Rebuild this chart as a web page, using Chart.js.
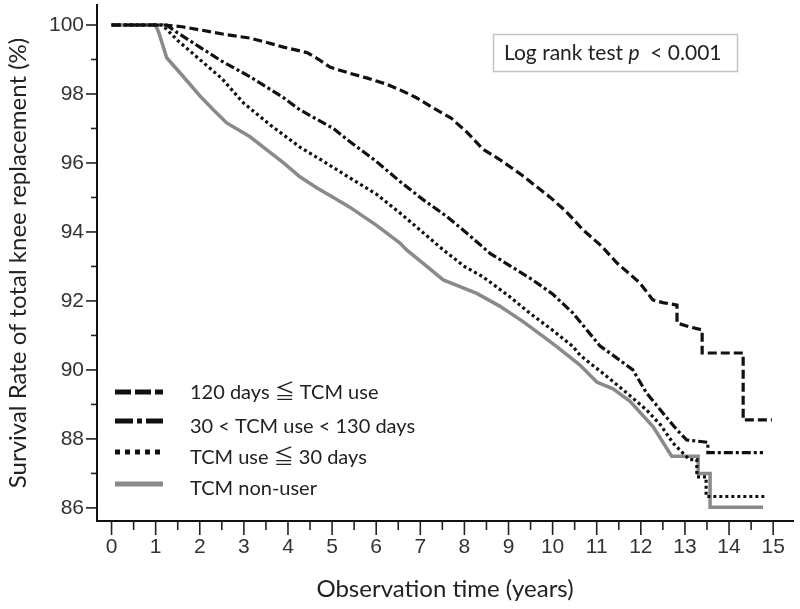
<!DOCTYPE html>
<html><head><meta charset="utf-8">
<script src="https://cdn.jsdelivr.net/npm/chart.js@4.4.1/dist/chart.umd.min.js"></script>
<style>html,body{margin:0;padding:0;background:#fff}#wrap{width:800px;height:609px;position:relative}canvas{display:block}</style>
</head><body><div id="wrap"><canvas id="c" width="800" height="609"></canvas></div>
<script>
// ---- data ----
const xTickLabels = [0,1,2,3,4,5,6,7,8,9,10,11,12,13,14,15];
const yTickLabels = [86,88,90,92,94,96,98,100];
const seriesNames = ['120 days \u2266 TCM use','30 < TCM use < 130 days','TCM use \u2266 30 days','TCM non-user'];

// 120 days <= TCM use
const tA = [0,1.2,1.6,2.0,2.6,3.14,3.5,3.9,4.43,4.7,4.95,5.4,5.8,6.2,6.54,6.9,7.29,7.7,8.05,8.42,8.8,9.3,9.94,10.3,10.69,11.1,11.46,11.98,12.27,12.5,12.82,12.82,13.1,13.39,13.39,14.32,14.32,14.97];
const sA = [100,100,99.95,99.86,99.72,99.62,99.5,99.36,99.2,99.0,98.78,98.6,98.46,98.3,98.12,97.9,97.6,97.3,96.9,96.4,96.1,95.65,95.01,94.6,94.06,93.6,93.1,92.52,92.03,91.95,91.88,91.36,91.25,91.16,90.49,90.49,88.55,88.55];
// 30 < TCM use < 130 days
const tB = [0,1.25,1.5,2.0,2.5,3.14,3.89,4.27,5.03,5.4,6.0,6.54,7.07,7.6,8.05,8.58,9.5,10.0,10.46,11.07,11.45,11.82,12.13,12.5,12.82,13.04,13.52,13.52,14.77];
const sB = [100,100,99.77,99.36,98.95,98.5,97.9,97.54,97.0,96.62,96.05,95.46,94.93,94.45,93.97,93.38,92.65,92.2,91.65,90.7,90.35,90.0,89.33,88.75,88.26,87.97,87.9,87.6,87.6];
// TCM use <= 30 days
const tC = [0,1.15,1.5,2.0,2.5,2.99,3.6,4.27,4.8,5.4,6.0,6.54,7.0,7.52,8.0,8.42,9.0,9.49,10.0,10.46,10.62,11.23,11.6,12.13,12.45,12.73,13.1,13.27,13.27,13.48,13.48,14.86];
const sC = [100,100,99.55,99.0,98.45,97.74,97.1,96.46,96.05,95.57,95.1,94.55,94.05,93.48,93.0,92.7,92.15,91.64,91.15,90.68,90.43,89.81,89.42,88.84,88.4,87.88,87.4,87.4,86.9,86.9,86.33,86.33];
// TCM non-user
const tD = [0,1.0,1.08,1.25,1.63,2.0,2.3,2.61,3.14,3.52,3.9,4.27,4.65,5.03,5.4,6.0,6.54,6.69,7.1,7.52,8.28,8.8,9.33,9.7,10.1,10.62,11.0,11.37,11.75,12.28,12.7,13.3,13.3,13.57,13.57,14.77];
const sD = [100,100,99.75,99.05,98.5,97.95,97.55,97.16,96.76,96.38,96.0,95.6,95.28,95.0,94.72,94.2,93.68,93.48,93.05,92.61,92.22,91.85,91.4,91.05,90.67,90.14,89.65,89.45,89.1,88.35,87.5,87.5,87.0,87.0,86.02,86.02];

const pts = (t, s) => t.map((v, i) => ({x: v, y: s[i]}));

// ---- styles ----
const lineDashes = [[9,4],[9,3,3,3],[3,3],[]];
const legendDashes = [[16,4],[18,4,5,4],[5,5],[]];
const colors = ['#111','#111','#111','#8a8a8a'];
const tickFont = {family: '"Liberation Sans", Arial, sans-serif', size: 21};
const textFont = 'Lato, "Noto Sans CJK TC", sans-serif';

const kmDecor = {
  id: 'kmDecor',
  afterDraw(chart) {
    const ctx = chart.ctx, xs = chart.scales.x, ys = chart.scales.y;
    ctx.save();
    ctx.strokeStyle = '#222';
    ctx.lineWidth = 1.6;
    ctx.setLineDash([]);
    for (let k = 0; k <= 30; k++) {
      const v = k / 2;
      const px = xs.getPixelForValue(v);
      const len = (k % 2 === 0) ? 14 : 9;
      ctx.beginPath(); ctx.moveTo(px, xs.top); ctx.lineTo(px, xs.top + len); ctx.stroke();
    }
    for (let v = 86; v <= 100; v++) {
      const py = ys.getPixelForValue(v);
      const len = (v % 2 === 0) ? 11 : 6;
      ctx.beginPath(); ctx.moveTo(ys.right, py); ctx.lineTo(ys.right - len, py); ctx.stroke();
    }
    const ca = chart.chartArea;
    const sampleY = [392, 421, 452, 484];
    const textY = [392, 426, 457, 488];
    chart.data.datasets.forEach((ds, i) => {
      ctx.beginPath();
      ctx.setLineDash(legendDashes[i]);
      ctx.lineWidth = 5;
      ctx.lineCap = 'butt';
      ctx.strokeStyle = colors[i];
      ctx.moveTo(ca.left + 18, sampleY[i]); ctx.lineTo(ca.left + 66, sampleY[i]); ctx.stroke();
      ctx.setLineDash([]);
      ctx.fillStyle = '#222';
      ctx.font = '20px ' + textFont;
      ctx.textBaseline = 'middle';
      ctx.textAlign = 'left';
      ctx.fillText(ds.label, ca.left + 93, textY[i] + 1);
    });
    ctx.setLineDash([]);
    ctx.strokeStyle = '#c4c4c4';
    ctx.lineWidth = 1.5;
    ctx.strokeRect(493.5, 34.5, 244, 37);
    ctx.fillStyle = '#222';
    ctx.textBaseline = 'middle';
    let x = 504; const ty = 53;
    const parts = [['Log rank test ', ''], ['p', 'italic '], ['  < 0.001', '']];
    parts.forEach(([txt, st]) => {
      ctx.font = st + '21px ' + textFont;
      ctx.fillText(txt, x, ty);
      x += ctx.measureText(txt).width;
    });
    ctx.restore();
  }
};

const ds = [
  {label: seriesNames[0], data: pts(tA, sA)},
  {label: seriesNames[1], data: pts(tB, sB)},
  {label: seriesNames[2], data: pts(tC, sC)},
  {label: seriesNames[3], data: pts(tD, sD)}
].map((d, i) => Object.assign(d, {
  borderColor: colors[i], borderDash: lineDashes[i], borderWidth: i === 3 ? 3.5 : 3.2,
  pointRadius: 0, tension: 0, fill: false, borderCapStyle: 'butt', borderJoinStyle: 'miter'
}));

new Chart(document.getElementById('c'), {
  type: 'line',
  data: {datasets: ds},
  options: {
    responsive: false, animation: false, devicePixelRatio: 1,
    layout: {padding: {top: 5, right: 7, left: 0, bottom: 0}},
    plugins: {legend: {display: false}, tooltip: {enabled: false}},
    scales: {
      x: {
        type: 'linear', min: -0.33, max: 15.45,
        afterBuildTicks: s => { s.ticks = xTickLabels.map(v => ({value: v})); },
        afterFit: s => { s.height = 88; s.paddingLeft = 0; s.paddingRight = 0; },
        grid: {display: false, drawTicks: false, tickLength: 0},
        border: {display: true, color: '#111', width: 2},
        ticks: {font: tickFont, color: '#333', padding: 14, maxRotation: 0, autoSkip: false},
        title: {display: true, text: 'Observation time (years)', color: '#222',
                font: {family: textFont, size: 24}, padding: {top: 0, bottom: 5}}
      },
      y: {
        type: 'linear', min: 85.62, max: 100.58,
        afterBuildTicks: s => { s.ticks = yTickLabels.map(v => ({value: v})); },
        afterFit: s => { s.width = 97; s.paddingTop = 0; s.paddingBottom = 0; },
        grid: {display: false, drawTicks: false, tickLength: 0},
        border: {display: true, color: '#111', width: 2},
        ticks: {font: tickFont, color: '#333', padding: 13},
        title: {display: true, text: 'Survival Rate of total knee replacement (%)', color: '#222',
                font: {family: textFont, size: 24}, padding: {top: 4, bottom: 0}}
      }
    }
  },
  plugins: [kmDecor]
});
</script>
</body></html>
